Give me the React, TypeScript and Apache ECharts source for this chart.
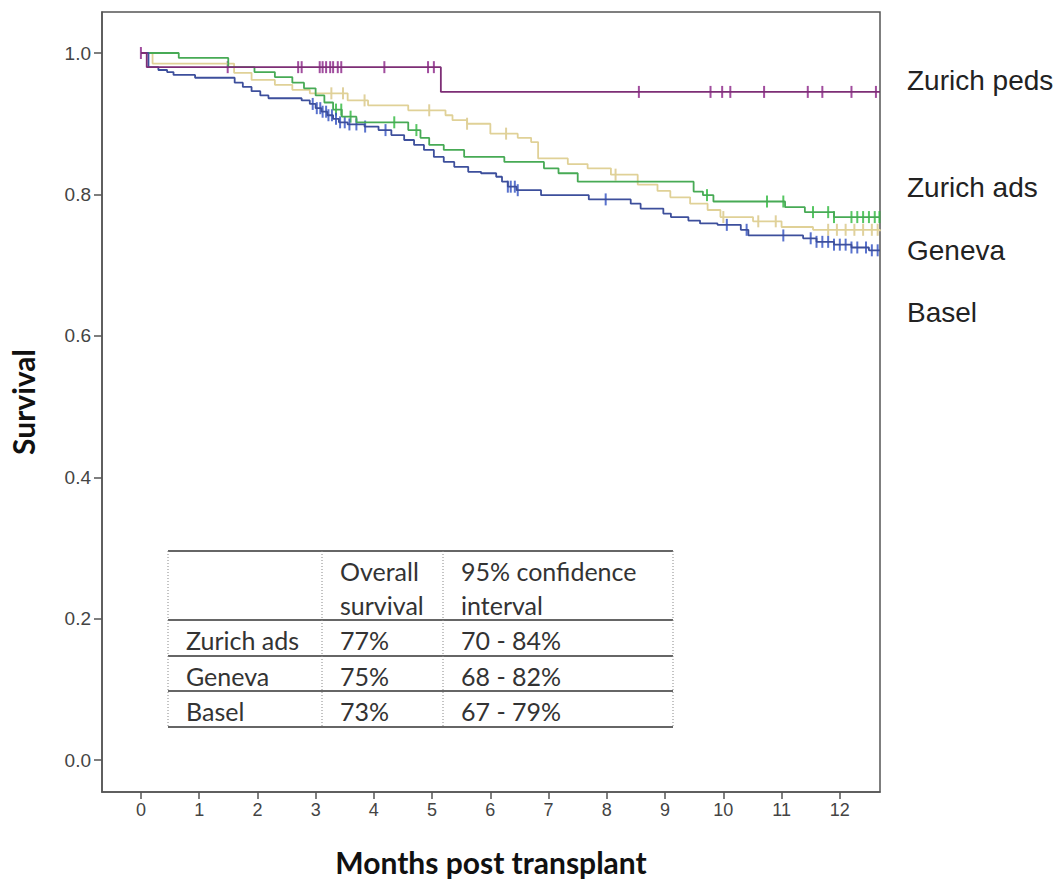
import React, { useEffect, useRef } from "react";
import * as echarts from "echarts";

// ---------- data ----------
const xTickValues = [0, 1, 2, 3, 4, 5, 6, 7, 8, 9, 10, 11, 12];
const yTickValues = [0, 0.2, 0.4, 0.6, 0.8, 1.0];

const groupNames = ["Zurich peds", "Zurich ads", "Geneva", "Basel"];

// Zurich peds
const pedsTimes = [0, 0.1, 5.15, 12.69];
const pedsSurv = [1.0, 0.98, 0.945, 0.945];
const pedsCensor = [0, 1.49, 2.7, 2.76, 3.07, 3.12, 3.18, 3.25, 3.3, 3.38, 3.44, 4.18, 4.93, 5.03, 8.55, 9.78, 9.98, 10.12, 10.7, 11.45, 11.7, 12.2, 12.62];

// Zurich ads
const adsTimes = [0, 0.65, 1.5, 1.95, 2.3, 2.6, 2.8, 3.0, 3.15, 3.3, 3.45, 3.7, 4.59, 4.8, 4.95, 5.2, 5.55, 6.24, 6.92, 7.17, 7.5, 9.49, 9.65, 9.83, 11.06, 11.4, 11.9, 12.69];
const adsSurv = [1.0, 0.993, 0.98, 0.973, 0.966, 0.958, 0.95, 0.94, 0.93, 0.92, 0.91, 0.902, 0.891, 0.88, 0.87, 0.863, 0.853, 0.846, 0.837, 0.83, 0.818, 0.804, 0.799, 0.79, 0.782, 0.775, 0.768, 0.768];
const adsCensor = [3.35, 3.44, 3.6, 4.35, 4.73, 9.72, 10.75, 11.03, 11.54, 11.8, 11.9, 12.2, 12.3, 12.4, 12.5, 12.6, 12.68];

// Geneva
const genTimes = [0, 0.2, 1.6, 1.9, 2.3, 2.6, 2.9, 3.55, 3.9, 4.59, 5.23, 5.35, 5.6, 6.0, 6.47, 6.7, 6.82, 7.33, 7.67, 8.07, 8.53, 8.87, 9.09, 9.43, 9.73, 9.95, 10.51, 11.0, 11.54, 12.69];
const genSurv = [1.0, 0.985, 0.972, 0.962, 0.955, 0.948, 0.943, 0.933, 0.926, 0.919, 0.912, 0.905, 0.9, 0.886, 0.88, 0.874, 0.851, 0.843, 0.837, 0.828, 0.814, 0.805, 0.796, 0.787, 0.778, 0.768, 0.762, 0.754, 0.75, 0.748];
const genCensor = [3.27, 3.47, 3.84, 4.95, 5.6, 6.27, 8.15, 10.0, 10.6, 10.9, 11.8, 11.95, 12.1, 12.25, 12.4, 12.55, 12.65];

// Basel
const basTimes = [0, 0.13, 0.3, 0.45, 0.56, 0.93, 1.61, 1.75, 1.9, 2.05, 2.19, 2.76, 2.9, 3.0, 3.1, 3.2, 3.3, 3.4, 3.55, 3.84, 4.08, 4.3, 4.52, 4.69, 4.86, 5.03, 5.2, 5.38, 5.62, 5.84, 6.1, 6.2, 6.3, 6.45, 6.87, 7.69, 8.41, 8.58, 8.97, 9.1, 9.4, 9.6, 9.9, 10.3, 10.43, 11.37, 11.6, 11.9, 12.2, 12.5, 12.69];
const basSurv = [1.0, 0.98, 0.976, 0.973, 0.969, 0.965, 0.958, 0.952, 0.946, 0.94, 0.936, 0.933, 0.928, 0.922, 0.917, 0.912, 0.907, 0.902, 0.899, 0.896, 0.891, 0.884, 0.877, 0.87, 0.863, 0.853, 0.846, 0.839, 0.832, 0.83, 0.825, 0.818, 0.811, 0.806, 0.799, 0.793, 0.787, 0.78, 0.773, 0.768, 0.763, 0.759, 0.757, 0.75, 0.742, 0.738, 0.733, 0.729, 0.725, 0.721, 0.721];
const basCensor = [2.95, 3.02, 3.08, 3.12, 3.18, 3.22, 3.28, 3.35, 3.42, 3.5, 3.58, 3.7, 3.85, 4.2, 6.3, 6.35, 6.42, 6.47, 7.98, 10.06, 10.4, 11.03, 11.5, 11.6, 11.7, 11.8, 11.9, 12.0, 12.1, 12.2, 12.3, 12.45, 12.55, 12.65];

// table
const tableHeader = ["", "Overall\nsurvival", "95% confidence\ninterval"];
const tableRows = ["Zurich ads", "Geneva", "Basel"];
const tableOverall = ["77%", "75%", "73%"];
const tableCI = ["70 - 84%", "68 - 82%", "67 - 79%"];

// ---------- helpers ----------
const stepValue = (times: number[], surv: number[], t: number) => {
  let v = surv[0];
  for (let i = 0; i < times.length; i++) if (times[i] <= t) v = surv[i];
  return v;
};

export default function App() {
  const ref = useRef<HTMLDivElement>(null);
  useEffect(() => {
    if (!ref.current) return;
    const chart = echarts.init(ref.current, null, { renderer: "svg" });

    const groups = [
      { name: groupNames[2], times: genTimes, surv: genSurv, censor: genCensor, line: "#e0d197", mark: "#d8c585" },
      { name: groupNames[1], times: adsTimes, surv: adsSurv, censor: adsCensor, line: "#47aa55", mark: "#2db83c" },
      { name: groupNames[3], times: basTimes, surv: basSurv, censor: basCensor, line: "#3d4f9c", mark: "#2f4fc0" },
      { name: groupNames[0], times: pedsTimes, surv: pedsSurv, censor: pedsCensor, line: "#7d2e76", mark: "#8a2086" },
    ];

    const series: any[] = [];
    groups.forEach((g) => {
      series.push({
        type: "line",
        name: g.name,
        step: "end",
        data: g.times.map((t, i) => [t, g.surv[i]]),
        symbol: "none",
        lineStyle: { color: g.line, width: 1.8 },
        silent: true,
      });
      series.push({
        type: "scatter",
        name: g.name + " censored",
        data: g.censor.map((t) => [t, stepValue(g.times, g.surv, t)]),
        symbol: "rect",
        symbolSize: [2, 12],
        itemStyle: { color: g.mark },
        silent: true,
      });
    });

    // table geometry
    const tL = 168, tR = 673, c1 = 322, c2 = 443;
    const rowY = [551, 620, 656, 691, 727];
    const font = "Lato, 'Open Sans', sans-serif";
    const tableEls: any[] = [];
    rowY.forEach((y) => {
      tableEls.push({ type: "line", z: 20, shape: { x1: tL, y1: y, x2: tR, y2: y }, style: { stroke: "#333", lineWidth: 1.5 } });
    });
    [tL, c1, c2, tR].forEach((x) => {
      tableEls.push({ type: "line", z: 20, shape: { x1: x, y1: rowY[0], x2: x, y2: rowY[4] }, style: { stroke: "#888", lineWidth: 1, lineDash: [1, 2] } });
    });
    const colX = [186, 340, 461];
    tableHeader.forEach((h, i) => {
      if (!h) return;
      h.split("\n").forEach((ln, j) => {
        tableEls.push({ type: "text", z: 20, x: colX[i], y: j === 0 ? 571 : 605, style: { text: ln, font: `25px ${font}`, fill: "#333", verticalAlign: "middle" } });
      });
    });
    const rowMid = [640, 676, 711];
    tableRows.forEach((r, i) => {
      [r, tableOverall[i], tableCI[i]].forEach((txt, k) => {
        tableEls.push({ type: "text", z: 20, x: colX[k], y: rowMid[i], style: { text: txt, font: `25px ${font}`, fill: "#333", verticalAlign: "middle" } });
      });
    });

    const labelY = [80, 187, 250, 312];
    const sideLabels = groupNames.map((n, i) => ({
      type: "text",
      x: 907,
      y: labelY[i],
      style: { text: n, font: "28px 'Liberation Sans', Arial, sans-serif", fill: "#222", verticalAlign: "middle" },
    }));

    chart.setOption({
      animation: false,
      backgroundColor: "#fff",
      grid: { left: 100, top: 12, right: 182, bottom: 91, show: true, borderColor: "#555", borderWidth: 1.5, backgroundColor: "transparent" },
      xAxis: {
        type: "value",
        min: -0.668,
        max: 12.69,
        name: "Months post transplant",
        nameLocation: "middle",
        nameGap: 55,
        nameTextStyle: { fontFamily: "Lato, sans-serif", fontWeight: "bold", fontSize: 30, color: "#111" },
        axisLine: { show: true, onZero: false, lineStyle: { color: "#555", width: 1.5 } },
        axisTick: { show: true, customValues: xTickValues, length: 7, lineStyle: { color: "#555", width: 1.5 } },
        axisLabel: { customValues: xTickValues, fontFamily: "'Liberation Sans', Arial, sans-serif", fontSize: 18, color: "#444", margin: 9 },
        splitLine: { show: false },
      },
      yAxis: {
        type: "value",
        min: -0.045,
        max: 1.058,
        name: "Survival",
        nameLocation: "middle",
        nameGap: 64,
        nameRotate: 90,
        nameTextStyle: { fontFamily: "Lato, sans-serif", fontWeight: "bold", fontSize: 30, color: "#111" },
        axisLine: { show: true, onZero: false, lineStyle: { color: "#555", width: 1.5 } },
        axisTick: { show: true, customValues: yTickValues, length: 8, lineStyle: { color: "#555", width: 1.5 } },
        axisLabel: { customValues: yTickValues, formatter: (v: number) => v.toFixed(1), fontFamily: "'Liberation Sans', Arial, sans-serif", fontSize: 19, color: "#444", margin: 11 },
        splitLine: { show: false },
      },
      graphic: [...tableEls, ...sideLabels],
      series,
    });
    return () => chart.dispose();
  }, []);
  return <div ref={ref} style={{ position: "absolute", left: 0, top: 0, width: 1062, height: 883 }} />;
}
